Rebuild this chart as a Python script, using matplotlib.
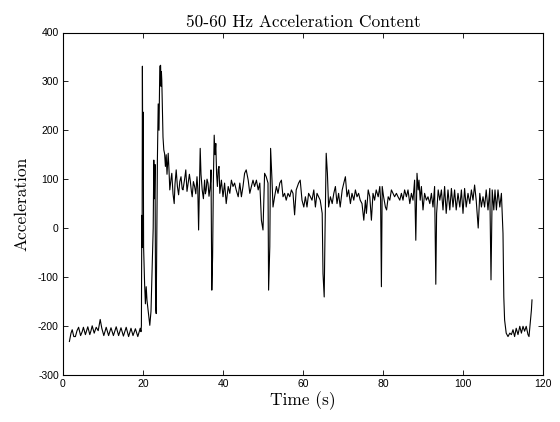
import numpy as np
import matplotlib
matplotlib.use("Agg")
import matplotlib.pyplot as plt

# ---------------- data ----------------
t_base = [1.6, 2.0, 2.3, 2.7, 3.1, 3.5, 3.9, 4.4, 4.8, 5.1,
          5.6, 5.9, 6.2, 6.7, 7.0, 7.3, 7.8, 8.3, 8.8, 9.3,
          9.7, 10.2, 10.8, 11.4, 12.0, 12.6, 13.3, 13.9, 14.5, 15.1,
          15.8, 16.4, 17.0, 17.5, 18.1, 18.7, 19.3, 19.5]
a_base = [-232, -215, -208, -222, -222, -210, -203, -220, -212, -203,
          -218, -210, -202, -218, -210, -200, -215, -203, -210, -187,
          -205, -220, -203, -220, -204, -220, -202, -220, -204, -221,
          -203, -222, -205, -220, -206, -222, -205, -212]

t_burst = [19.6, 19.7, 19.78, 19.85, 19.95, 20.05, 20.15, 20.4, 20.6, 20.8,
           21.0, 21.3, 21.7, 22.0, 22.35, 22.55, 22.7, 22.85, 23.0, 23.15,
           23.3, 23.45, 23.6, 23.8, 24.0, 24.2, 24.4, 24.5, 24.6, 24.7,
           24.85, 25.0, 25.2, 25.4, 25.6, 25.8]
a_burst = [-200, 26, -40, 331, 100, 237, -39, -114, -155, -120,
           -148, -170, -199, -170, -66, 0, 139, 60, 130, -161,
           -175, -18, 140, 254, 200, 331, 333, 290, 320, 302,
           241, 186, 160, 152, 126, 150]

t_mid1 = [26.0, 26.3, 26.5, 26.7, 27.0, 27.2, 27.5, 27.8, 28.0, 28.3,
          28.6, 28.9, 29.2, 29.5, 29.8, 30.0, 30.4, 30.7, 31.0, 31.3,
          31.6, 31.8, 32.1, 32.3, 32.6, 32.9, 33.2, 33.5, 33.7, 33.9,
          34.1, 34.3, 34.5, 34.8, 35.1, 35.4, 35.6, 35.8, 36.0, 36.25,
          36.5, 36.7, 36.9, 37.0, 37.2, 37.4, 37.6, 37.8, 38.0, 38.2,
          38.4, 38.6, 38.8]
a_mid1 = [110, 153, 119, 78, 100, 112, 70, 50, 90, 119,
          85, 68, 95, 105, 80, 78, 100, 119, 75, 92,
          110, 98, 75, 64, 95, 85, 70, 105, 80, -4,
          80, 163, 110, 78, 60, 98, 70, 78, 100, 92,
          65, 78, 95, 119, -127, -60, 100, 190, 150, 173,
          110, 85, 120]

t_mid2 = [39.0, 39.2, 39.6, 40.0, 40.4, 40.8, 41.3, 41.7, 42.1, 42.5,
          42.9, 43.3, 43.8, 44.2, 44.6, 45.0, 45.4, 45.8, 46.3, 46.7,
          47.1, 47.5, 47.9, 48.35, 48.8, 49.2, 49.6, 50.0, 50.4, 50.8,
          51.25, 51.4, 51.7, 51.9, 52.25, 52.5, 52.9, 53.35, 53.75, 54.2,
          54.6, 55.0, 55.4, 55.8, 56.25, 56.7, 57.1, 57.5]
a_mid2 = [126, 71, 98, 64, 92, 50, 85, 71, 98, 85,
          92, 78, 64, 92, 64, 85, 112, 119, 98, 71,
          85, 98, 85, 98, 78, 92, 16, -4, 112, 105,
          92, -127, -38, 163, 98, 43, 64, 85, 71, 92,
          98, 64, 71, 57, 71, 64, 78, 71]

t_mid3 = [57.9, 58.3, 58.9, 59.3, 59.75, 60.2, 60.6, 61.0, 61.4, 61.85,
          62.25, 62.7, 63.1, 63.5, 63.9, 64.3, 64.8, 65.0, 65.3, 65.5,
          65.8, 66.1, 66.4, 66.85, 67.3, 67.7, 68.1, 68.5, 68.9, 69.3,
          69.8, 70.2, 70.6, 71.0, 71.4, 71.85, 72.25, 72.7, 73.1, 73.5,
          73.9, 74.3, 74.75, 75.2]
a_mid3 = [27, 78, 92, 98, 57, 43, 64, 43, 71, 64,
          57, 78, 43, 71, 64, 57, 30, -93, -141, -11,
          153, 112, 43, 64, 50, 71, 85, 50, 71, 43,
          78, 92, 105, 64, 78, 50, 71, 57, 78, 64,
          71, 57, 50, 16]

t_mid4 = [75.6, 75.85, 76.3, 76.7, 77.1, 77.5, 77.9, 78.3, 78.8, 79.2,
          79.4, 79.6, 79.8, 80.15, 80.6, 80.9, 81.3, 81.7, 82.1, 82.5,
          82.9, 83.35, 83.75, 84.2, 84.6, 85.0, 85.4, 85.85, 86.25, 86.7,
          87.1, 87.5, 87.9, 88.2, 88.5, 88.8, 89.0, 89.3, 89.6, 90.0,
          90.4, 90.85, 91.25, 91.7, 92.1, 92.5, 92.9, 93.2, 93.4, 93.8,
          94.2]
a_mid4 = [57, 30, 78, 64, 16, 71, 57, 78, 64, 85,
          57, -120, 85, 64, 43, 37, 64, 57, 78, 71,
          64, 71, 64, 57, 71, 57, 78, 64, 78, 50,
          71, 57, 98, -25, 112, 78, 98, 57, 85, 37,
          71, 57, 64, 50, 71, 43, 85, -115, 30, 78,
          57]

t_mid5 = [94.6, 95.0, 95.4, 95.8, 96.25, 96.7, 97.1, 97.5, 97.9, 98.3,
          98.75, 99.2, 99.6, 100.0, 100.4, 100.8, 101.25, 101.7, 102.1, 102.5,
          102.9, 103.3, 103.8, 104.2, 104.6, 105.0, 105.4, 105.8, 106.25, 106.7,
          107.0, 107.3, 107.7, 108.0, 108.35, 108.75, 109.2, 109.6, 109.8, 110.0]
a_mid5 = [78, 37, 85, 30, 78, 37, 81, 43, 78, 37,
          71, 43, 78, 30, 81, 43, 71, 50, 78, 57,
          88, 57, 0, 71, 43, 64, 43, 78, 37, 81,
          -106, 78, 37, 78, 37, 78, 43, 71, 30, -11]

t_tail = [110.2, 110.4, 110.8, 111.25, 111.7, 112.1, 112.5, 112.9, 113.3, 113.75,
          114.2, 114.6, 115.0, 115.4, 115.8, 116.25, 116.5, 116.8, 117.1, 117.25]
a_tail = [-141, -188, -215, -222, -215, -218, -208, -222, -205, -218,
          -201, -215, -201, -211, -201, -218, -222, -195, -168, -147]

x_ticks = [0, 20, 40, 60, 80, 100, 120]
y_ticks = [-300, -200, -100, 0, 100, 200, 300, 400]
title_text = "50-60 Hz Acceleration Content"
x_label = "Time (s)"
y_label = "Acceleration"

# ---------------- plot ----------------
plt.rcParams["axes.unicode_minus"] = False

time = np.concatenate([t_base, t_burst, t_mid1, t_mid2, t_mid3, t_mid4, t_mid5, t_tail])
accel = np.concatenate([a_base, a_burst, a_mid1, a_mid2, a_mid3, a_mid4, a_mid5, a_tail])

fig = plt.figure(figsize=(5.6, 4.22), dpi=100)
ax = fig.add_axes([63 / 560, 1 - 374.7 / 422, 480 / 560, (374.7 - 32.5) / 422])
ax.plot(time, accel, color="black", linewidth=0.8)

ax.set_xlim(0, 120)
ax.set_ylim(-300, 400)
ax.set_xticks(x_ticks)
ax.set_yticks(y_ticks)
ax.set_xticklabels([str(v) for v in x_ticks])
ax.set_yticklabels([str(v) for v in y_ticks])

for lab in ax.get_xticklabels() + ax.get_yticklabels():
    lab.set_family("Liberation Sans")
    lab.set_fontsize(7.5)

ax.tick_params(direction="in", length=3.5, width=0.6, top=True, right=True,
               pad=3, colors="black")
for s in ax.spines.values():
    s.set_linewidth(0.8)

serif = ["cmr10", "DejaVu Serif"]
ax.set_title(title_text, family=serif, fontsize=12.5, pad=4)
ax.set_xlabel(x_label, family=serif, fontsize=12.5, labelpad=2)
ax.set_ylabel(y_label, family=serif, fontsize=12.5, labelpad=6)

fig.savefig("out.png", dpi=100)
